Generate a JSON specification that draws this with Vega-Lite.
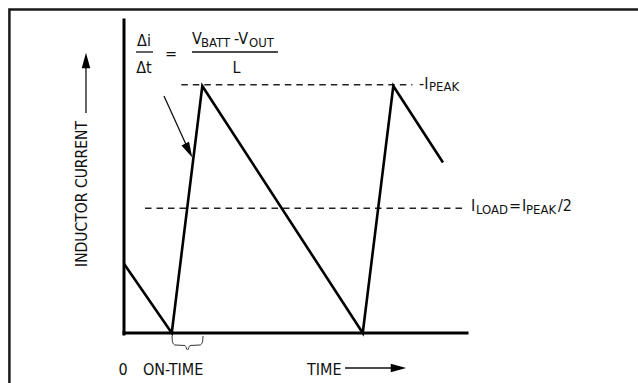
{
  "$schema": "https://vega.github.io/schema/vega-lite/v6.json",
  "width": 638,
  "height": 383,
  "autosize": "none",
  "padding": 0,
  "background": "white",
  "config": {
    "view": {"stroke": null},
    "text": {"font": "DejaVu Sans Condensed, DejaVu Sans, sans-serif", "fill": "#111"}
  },
  "datasets": {
    "frame": [{"t": -6.0, "i": 1.3097, "t2": 30, "i2": -0.5}],
    "axes": [
      {"t": 0, "t2": 0, "i": -0.004, "i2": 1.267},
      {"t": 0, "t2": 17.96, "i": 0, "i2": 0}
    ],
    "levels": [
      {"name": "peak", "t": 3.0, "t2": 15.1, "i": 1.005, "i2": 1.005},
      {"name": "load", "t": 1.1, "t2": 17.75, "i": 0.505, "i2": 0.505}
    ],
    "wave": [
      {"t": 0, "i": 0.28},
      {"t": 2.5, "i": 0},
      {"t": 4.1, "i": 1},
      {"t": 12.5, "i": 0},
      {"t": 14.1, "i": 1},
      {"t": 16.7, "i": 0.69}
    ],
    "thin": [
      {"name": "di bar", "t": 0.628, "t2": 1.52, "i": 1.1377, "i2": 1.1377},
      {"name": "v bar", "t": 3.56, "t2": 8.06, "i": 1.1377, "i2": 1.1377},
      {"name": "slope arrow", "t": 2.094, "t2": 3.39, "i": 0.9595, "i2": 0.7385},
      {"name": "current arrow", "t": -1.99, "t2": -1.99, "i": 0.891, "i2": 1.097},
      {"name": "time arrow", "t": 11.57, "t2": 14.3, "i": -0.1417, "i2": -0.1417}
    ],
    "heads": [
      {"t": 3.39, "i": 0.7385, "deg": 153},
      {"t": -1.99, "i": 1.103, "deg": 0},
      {"t": 14.37, "i": -0.1417, "deg": 90}
    ],
    "brace": [
      {"t": 2.513, "i": -0.0121},
      {"t": 2.539, "i": -0.0364},
      {"t": 2.67, "i": -0.0486},
      {"t": 3.194, "i": -0.0506},
      {"t": 3.325, "i": -0.0688},
      {"t": 3.455, "i": -0.0506},
      {"t": 3.979, "i": -0.0486},
      {"t": 4.11, "i": -0.0364},
      {"t": 4.136, "i": -0.0121}
    ],
    "textLeft": [
      {"label": "V", "t": 3.56, "i": 1.17},
      {"label": "-V", "t": 5.76, "i": 1.17},
      {"label": "-I", "t": 15.45, "i": 0.988},
      {"label": "I", "t": 18.17, "i": 0.494},
      {"label": "I", "t": 20.84, "i": 0.494},
      {"label": "/2", "t": 22.72, "i": 0.494},
      {"label": "ON-TIME", "t": 0.995, "i": -0.17},
      {"label": "TIME", "t": 9.58, "i": -0.17}
    ],
    "textCenter": [
      {"label": "Δi", "t": 1.047, "i": 1.162},
      {"label": "Δt", "t": 1.047, "i": 1.0526},
      {"label": "=", "t": 2.46, "i": 1.109},
      {"label": "L", "t": 5.89, "i": 1.0526},
      {"label": "=", "t": 20.47, "i": 0.494},
      {"label": "0", "t": -0.052, "i": -0.17}
    ],
    "textSub": [
      {"label": "BATT", "t": 4.031, "i": 1.158},
      {"label": "OUT", "t": 6.545, "i": 1.158},
      {"label": "PEAK", "t": 15.97, "i": 0.98},
      {"label": "LOAD", "t": 18.43, "i": 0.4818},
      {"label": "PEAK", "t": 21.05, "i": 0.4818}
    ],
    "yTitle": [
      {"label": "INDUCTOR CURRENT", "t": -2.2, "i": 0.5628}
    ]
  },
  "encoding": {
    "x": {"field": "t", "type": "quantitative", "scale": {"domain": [-6.4921, 26.911], "nice": false, "zero": false}, "axis": null},
    "y": {"field": "i", "type": "quantitative", "scale": {"domain": [-0.20243, 1.34818], "nice": false, "zero": false}, "axis": null}
  },
  "layer": [
    {
      "data": {"name": "frame"},
      "mark": {"type": "rect", "fill": null, "stroke": "#1a1a1a", "strokeWidth": 2.5},
      "encoding": {"x2": {"field": "t2"}, "y2": {"field": "i2"}}
    },
    {
      "data": {"name": "axes"},
      "mark": {"type": "rule", "stroke": "#000", "strokeWidth": 3, "strokeCap": "square"},
      "encoding": {"x2": {"field": "t2"}, "y2": {"field": "i2"}}
    },
    {
      "data": {"name": "levels"},
      "mark": {"type": "rule", "stroke": "#222", "strokeWidth": 1.5, "strokeDash": [6.5, 5]},
      "encoding": {"x2": {"field": "t2"}, "y2": {"field": "i2"}}
    },
    {
      "data": {"name": "wave"},
      "mark": {"type": "line", "stroke": "#000", "strokeWidth": 2.6, "strokeJoin": "miter"},
      "encoding": {}
    },
    {
      "data": {"name": "thin"},
      "mark": {"type": "rule", "stroke": "#111", "strokeWidth": 1.3},
      "encoding": {"x2": {"field": "t2"}, "y2": {"field": "i2"}}
    },
    {
      "data": {"name": "brace"},
      "mark": {"type": "line", "stroke": "#333", "strokeWidth": 1, "interpolate": "monotone"},
      "encoding": {}
    },
    {
      "data": {"name": "heads"},
      "mark": {"type": "point", "shape": "M0,-1L0.55,1L-0.55,1Z", "filled": true, "fill": "#000", "opacity": 1, "size": 240, "strokeWidth": 0},
      "encoding": {"angle": {"field": "deg", "type": "quantitative", "scale": null}}
    },
    {
      "data": {"name": "textLeft"},
      "mark": {"type": "text", "fontSize": 16, "align": "left", "baseline": "alphabetic"},
      "encoding": {"text": {"field": "label"}}
    },
    {
      "data": {"name": "textCenter"},
      "mark": {"type": "text", "fontSize": 16, "align": "center", "baseline": "alphabetic"},
      "encoding": {"text": {"field": "label"}}
    },
    {
      "data": {"name": "textSub"},
      "mark": {"type": "text", "fontSize": 13, "align": "left", "baseline": "alphabetic"},
      "encoding": {"text": {"field": "label"}}
    },
    {
      "data": {"name": "yTitle"},
      "mark": {"type": "text", "fontSize": 15.5, "align": "center", "baseline": "middle", "angle": 270},
      "encoding": {"text": {"field": "label"}}
    }
  ]
}
